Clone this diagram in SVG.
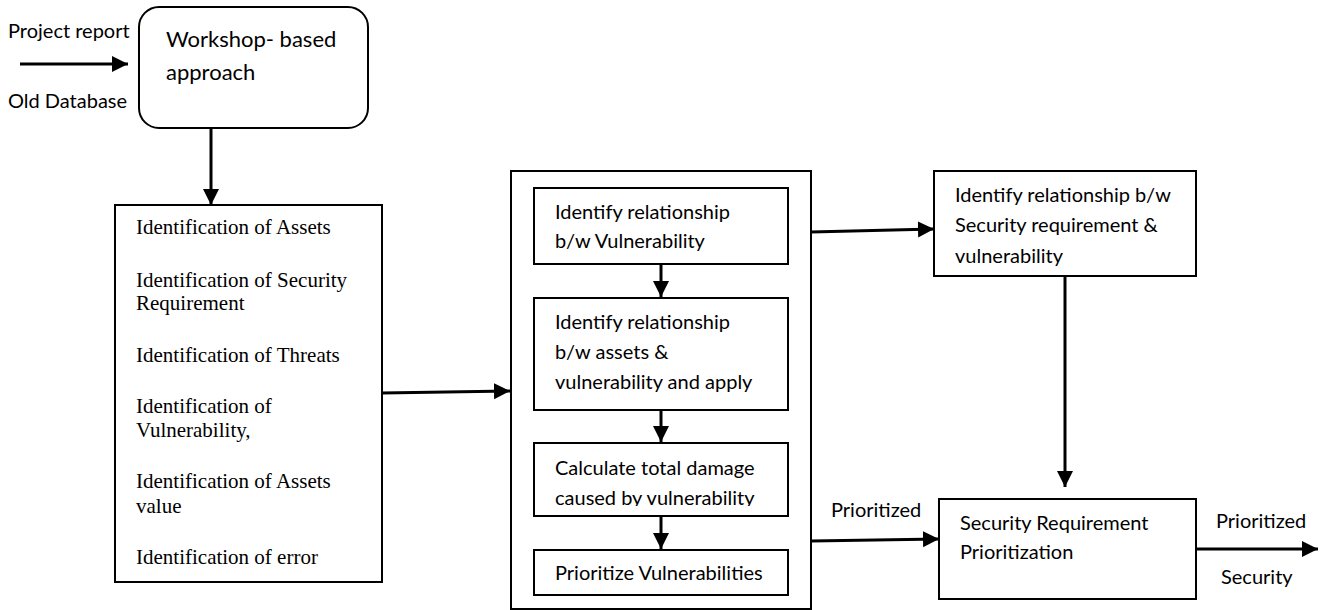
<svg xmlns="http://www.w3.org/2000/svg" width="1327" height="610" viewBox="0 0 1327 610">
<style>
.box{fill:#fff;stroke:#000;stroke-width:2}
.c{font-family:Lato,"Open Sans",sans-serif;font-size:20px;fill:#000}
.big{font-size:22px}
.s{font-family:"Liberation Serif","Times New Roman",serif;font-size:21px;fill:#000}
.ln{stroke:#000;stroke-width:3;fill:none;marker-end:url(#ah)}
</style>
<defs>
<marker id="ah" markerUnits="userSpaceOnUse" markerWidth="17" markerHeight="17" refX="16" refY="8" orient="auto">
<path d="M0,0 L16,8 L0,16 z" fill="#000"/>
</marker>
<clipPath id="cl3"><rect x="534" y="443" width="254" height="63"/></clipPath>
</defs>
<rect width="1327" height="610" fill="#fff"/>
<g id="inputs">
<text class="c" x="8" y="38">Project report</text>
<text class="c" x="8" y="108">Old Database</text>
</g>
<g id="workshop">
<rect class="box" x="139" y="7" width="229" height="121" rx="20"/>
<text class="c big" x="166" y="47">Workshop- based</text>
<text class="c big" x="166" y="80">approach</text>
</g>
<g id="identification">
<rect class="box" x="115" y="205" width="267" height="377"/>
<text class="s" x="136" y="234">Identification of Assets</text>
<text class="s" x="136" y="287">Identification of Security</text>
<text class="s" x="136" y="310">Requirement</text>
<text class="s" x="136" y="362">Identification of Threats</text>
<text class="s" x="136" y="413">Identification of</text>
<text class="s" x="136" y="437">Vulnerability,</text>
<text class="s" x="136" y="488">Identification of Assets</text>
<text class="s" x="136" y="513">value</text>
<text class="s" x="136" y="564">Identification of error</text>
</g>
<g id="vuln-group">
<rect class="box" x="511" y="171" width="300" height="438"/>
</g>
<g id="rel-vuln">
<rect class="box" x="534" y="188" width="254" height="76"/>
<text class="c" x="555" y="219">Identify relationship</text>
<text class="c" x="555" y="248">b/w Vulnerability</text>
</g>
<g id="rel-assets">
<rect class="box" x="534" y="298" width="254" height="112"/>
<text class="c" x="555" y="329">Identify relationship</text>
<text class="c" x="555" y="359">b/w assets &amp;</text>
<text class="c" x="555" y="389">vulnerability and apply</text>
</g>
<g id="damage">
<rect class="box" x="534" y="443" width="254" height="73"/>
<g clip-path="url(#cl3)">
<text class="c" x="555" y="475">Calculate total damage</text>
<text class="c" x="555" y="505">caused by vulnerability</text>
</g>
</g>
<g id="prioritize">
<rect class="box" x="534" y="550" width="254" height="45"/>
<text class="c" x="555" y="580">Prioritize Vulnerabilities</text>
</g>
<g id="rel-security">
<rect class="box" x="934" y="171" width="262" height="105"/>
<text class="c" x="955" y="202">Identify relationship b/w</text>
<text class="c" x="955" y="232">Security requirement &amp;</text>
<text class="c" x="955" y="263">vulnerability</text>
</g>
<g id="sr-prior">
<rect class="box" x="939" y="499" width="257" height="100"/>
<text class="c" x="960" y="530">Security Requirement</text>
<text class="c" x="960" y="559">Prioritization</text>
</g>
<g id="labels">
<text class="c" x="831" y="517">Prioritized</text>
<text class="c" x="1216" y="528">Prioritized</text>
<text class="c" x="1221" y="584">Security</text>
</g>
<g id="connectors">
<line class="ln" x1="20" y1="64" x2="128" y2="64"/>
<line class="ln" x1="211" y1="128" x2="211" y2="205"/>
<line class="ln" x1="382" y1="393" x2="510" y2="391"/>
<line class="ln" x1="661" y1="264" x2="661" y2="297"/>
<line class="ln" x1="661" y1="410" x2="661" y2="442"/>
<line class="ln" x1="661" y1="516" x2="661" y2="549"/>
<line class="ln" x1="811" y1="232" x2="934" y2="229"/>
<line class="ln" x1="1065" y1="276" x2="1065" y2="487"/>
<line class="ln" x1="811" y1="541" x2="939" y2="539"/>
<line class="ln" x1="1196" y1="549" x2="1318" y2="549"/>
</g>
</svg>
